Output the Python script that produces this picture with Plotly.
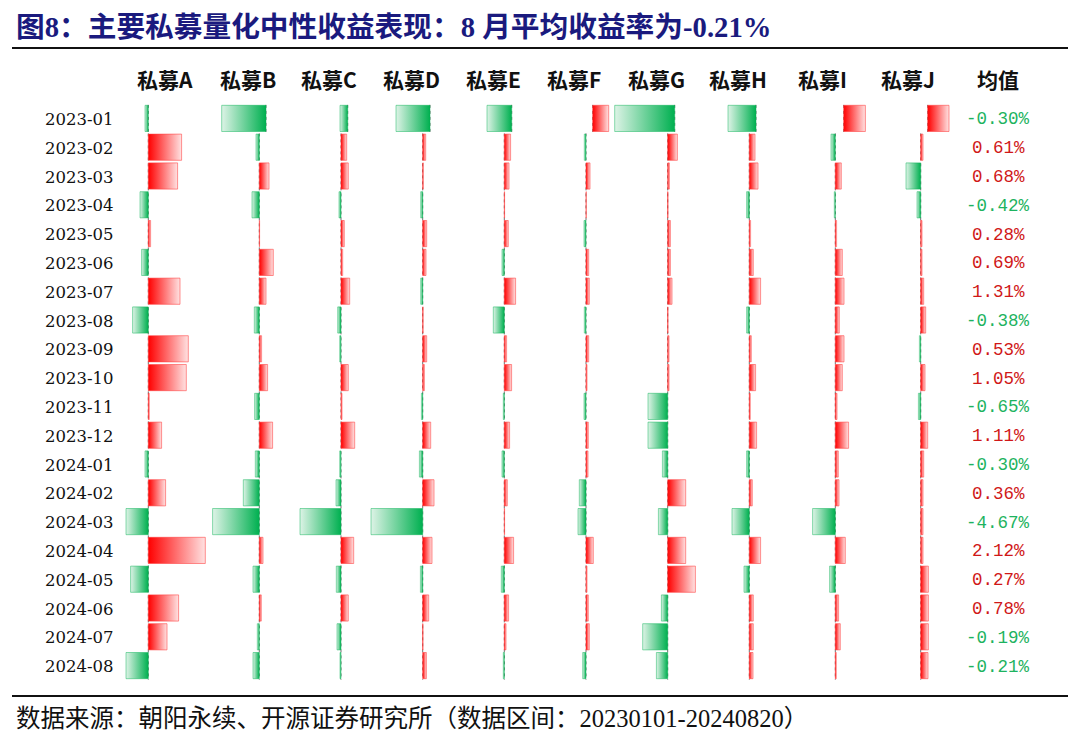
import plotly.graph_objects as go

# ---------------- data ----------------
months = ["2023-01", "2023-02", "2023-03", "2023-04", "2023-05", "2023-06", "2023-07",
          "2023-08", "2023-09", "2023-10", "2023-11", "2023-12", "2024-01", "2024-02",
          "2024-03", "2024-04", "2024-05", "2024-06", "2024-07", "2024-08"]
funds = ["私募A", "私募B", "私募C", "私募D", "私募E", "私募F", "私募G", "私募H", "私募I", "私募J"]

fund_a = [-0.33, 3.33, 2.93, -0.83, 0.23, -0.67, 3.17, -1.57, 4.00, 3.80, 0.10, 1.33, -0.33, 1.73, -2.23, 5.70, -1.77, 3.03, 1.87, -2.23]
fund_b = [-4.43, -0.33, 0.97, -0.73, 0.03, 1.40, 0.67, -0.50, 0.23, 0.83, -0.47, 1.33, -0.40, -1.60, -4.67, 0.37, -0.63, 0.20, -0.20, -0.63]
fund_c = [-0.77, 0.57, 0.73, -0.20, 0.33, 0.17, 0.87, -0.33, -0.13, 0.73, 0.10, 1.37, -0.13, -0.50, -4.10, 1.27, -0.47, 0.73, -0.40, -0.10]
fund_d = [-3.40, 0.30, 0.07, -0.20, 0.40, 0.33, -0.20, 0.05, 0.40, 0.17, -0.13, 0.80, -0.33, 1.13, -5.17, 0.93, -0.23, 0.60, 0.03, 0.37]
fund_e = [-2.47, 0.63, 0.47, 0.03, 0.40, -0.23, 1.13, -1.10, 0.23, 0.73, -0.10, 0.53, -0.23, 0.30, 0.03, 0.93, -0.30, 0.43, 0.17, -0.10]
fund_f = [1.60, -0.17, 0.40, 0.03, -0.20, 0.27, 0.33, -0.17, 0.27, 0.10, -0.20, 0.23, 0.20, -0.67, -0.80, 0.73, 0.10, 0.23, 0.33, -0.33]
fund_g = [-6.00, 0.97, 0.17, 0.03, 0.27, 0.27, 0.43, 0.03, 0.13, 0.13, -1.97, -1.97, -0.53, 1.80, -0.93, 1.80, 2.77, -0.63, -2.50, -1.13]
fund_h = [-2.80, 0.57, 0.87, -0.27, 0.13, 0.40, 1.13, -0.27, 0.20, 0.63, 0.10, 0.73, -0.27, 0.30, -1.73, 1.13, -0.53, 0.40, 0.40, 0.37]
fund_i = [2.17, -0.43, 0.60, -0.10, 0.13, 0.70, 0.87, 0.40, 0.87, 0.70, 0.17, 1.33, 0.30, 0.37, -2.27, 1.00, -0.57, 0.33, 0.50, 0.10]
fund_j = [2.13, 0.23, -1.47, -0.37, 0.13, 0.13, 0.30, 0.50, -0.13, 0.43, -0.23, 0.70, 0.30, 0.23, 0.23, 0.23, 0.77, 0.77, 0.77, 0.73]

mean_returns = [-0.30, 0.61, 0.68, -0.42, 0.28, 0.69, 1.31, -0.38, 0.53, 1.05, -0.65, 1.11,
                -0.30, 0.36, -4.67, 2.12, 0.27, 0.78, -0.19, -0.21]

title_text = "图8：主要私募量化中性收益表现：8 月平均收益率为-0.21%"
source_text = "数据来源：朝阳永续、开源证券研究所（数据区间：20230101-20240820）"
mean_header = "均值"

series = [fund_a, fund_b, fund_c, fund_d, fund_e, fund_f, fund_g, fund_h, fund_i, fund_j]

# ---------------- layout / style ----------------
W, H = 1080, 749
PX_PER_UNIT = 10.0            # data-bar scale (pixels per 1 %)
ROW_TOP = 118.4               # pixel centre of first row
ROW_STEP = 28.8               # pixel distance between rows
HALF = 0.455                  # half bar height in row units
baseline_px = [148.3, 259.3, 341.0, 422.7, 504.3, 586.0, 667.7, 749.3, 835.3, 920.7]
baseline_first_px = [148.3, 266.0, 347.7, 430.0, 511.7, 592.7, 674.7, 756.0, 843.7, 927.7]
header_px = [165, 247.5, 329, 411.7, 493.3, 574, 656.5, 738.3, 822, 908]
mean_px = 998
date_px = 79

RED = "#FF0000"
RED_END = "#FFE2E2"
RED_LINE = "rgba(255,60,60,0.55)"
GREEN = "#00B050"
GREEN_END = "#DDF3E6"
GREEN_LINE = "rgba(0,176,80,0.45)"
TXT_RED = "#D01818"
TXT_GREEN = "#1DB360"
NAVY = "#1A1A7E"

fig = go.Figure()
layout = {}

def axis_name(n):
    return "x" if n == 1 else f"x{n}"

for c, b in enumerate(baseline_px):
    for k, bpx in enumerate([b, baseline_first_px[c]]):
        n = 2 * c + 1 + k
        key = "xaxis" if n == 1 else f"xaxis{n}"
        ax = dict(domain=[0, 1], range=[-bpx / PX_PER_UNIT, (W - bpx) / PX_PER_UNIT],
                  visible=False, anchor="y", fixedrange=True)
        if n > 1:
            ax["overlaying"] = "x"
        layout[key] = ax

yaxis = dict(domain=[0, 1], range=[(H - ROW_TOP) / ROW_STEP, -ROW_TOP / ROW_STEP],
             visible=False, fixedrange=True)

# dotted axis lines
for c in range(len(funds)):
    normal_ax = axis_name(2 * c + 1)
    first_ax = axis_name(2 * c + 2)
    fig.add_trace(go.Scatter(x=[0, 0], y=[0.52, len(months) - 1 + 0.5], mode="lines",
                             line=dict(color="#707070", width=1, dash="dot"),
                             xaxis=normal_ax, yaxis="y", hoverinfo="skip", showlegend=False))
    fig.add_trace(go.Scatter(x=[0, 0], y=[-0.47, 0.47], mode="lines",
                             line=dict(color="#707070", width=1, dash="dot"),
                             xaxis=first_ax, yaxis="y", hoverinfo="skip", showlegend=False))

# data bars
for c, vals in enumerate(series):
    for i, v in enumerate(vals):
        ax = axis_name(2 * c + 2) if i == 0 else axis_name(2 * c + 1)
        if v >= 0:
            cs = [[0, RED], [1, RED_END]]
            lc = RED_LINE
        else:
            cs = [[0, GREEN_END], [1, GREEN]]
            lc = GREEN_LINE
        fig.add_trace(go.Scatter(
            x=[0, v, v, 0, 0], y=[i - HALF, i - HALF, i + HALF, i + HALF, i - HALF],
            mode="lines", fill="toself",
            fillgradient=dict(type="horizontal", colorscale=cs),
            line=dict(color=lc, width=1),
            xaxis=ax, yaxis="y", hoverinfo="skip", showlegend=False))

annotations = []
# title
annotations.append(dict(text=title_text, x=14 / W, y=1 - 27 / H, xref="paper", yref="paper",
                        xanchor="left", yanchor="middle", showarrow=False,
                        font=dict(family="Liberation Serif, Noto Sans CJK SC", size=28.7,
                                  color=NAVY, weight="bold")))
# headers
for c, name in enumerate(funds):
    annotations.append(dict(text=name, x=header_px[c] / W, y=1 - 79 / H, xref="paper", yref="paper",
                            xanchor="center", yanchor="middle", showarrow=False,
                            font=dict(family="Noto Sans CJK SC", size=21, color="#111111",
                                      weight="bold")))
annotations.append(dict(text=mean_header, x=mean_px / W, y=1 - 79 / H, xref="paper", yref="paper",
                        xanchor="center", yanchor="middle", showarrow=False,
                        font=dict(family="Noto Sans CJK SC", size=21, color="#111111",
                                  weight="bold")))
# dates and means
for i, m in enumerate(months):
    annotations.append(dict(text=m, x=date_px / W, y=i, xref="paper", yref="y",
                            xanchor="center", yanchor="middle", showarrow=False, yshift=-1,
                            font=dict(family="DejaVu Serif", size=16.5, color="#111111")))
    mv = mean_returns[i]
    annotations.append(dict(text=f"{mv:.2f}%", x=mean_px / W, y=i, xref="paper", yref="y",
                            xanchor="center", yanchor="middle", showarrow=False, yshift=-1,
                            font=dict(family="Liberation Mono", size=17.5,
                                      color=TXT_GREEN if mv < 0 else TXT_RED)))
# source
annotations.append(dict(text=source_text, x=14 / W, y=1 - 718 / H, xref="paper", yref="paper",
                        xanchor="left", yanchor="middle", showarrow=False,
                        font=dict(family="Liberation Serif, Noto Sans CJK SC", size=24.5,
                                  color="#111111")))

shapes = [
    dict(type="line", xref="paper", yref="paper", x0=12 / W, x1=1068 / W, y0=1 - 48 / H, y1=1 - 48 / H,
         line=dict(color="#111111", width=2)),
    dict(type="line", xref="paper", yref="paper", x0=12 / W, x1=1068 / W, y0=1 - 696 / H, y1=1 - 696 / H,
         line=dict(color="#111111", width=2)),
]

fig.update_layout(width=W, height=H, margin=dict(l=0, r=0, t=0, b=0),
                  paper_bgcolor="white", plot_bgcolor="white",
                  yaxis=yaxis, annotations=annotations, shapes=shapes, showlegend=False,
                  **layout)

fig.write_html("out.html")
